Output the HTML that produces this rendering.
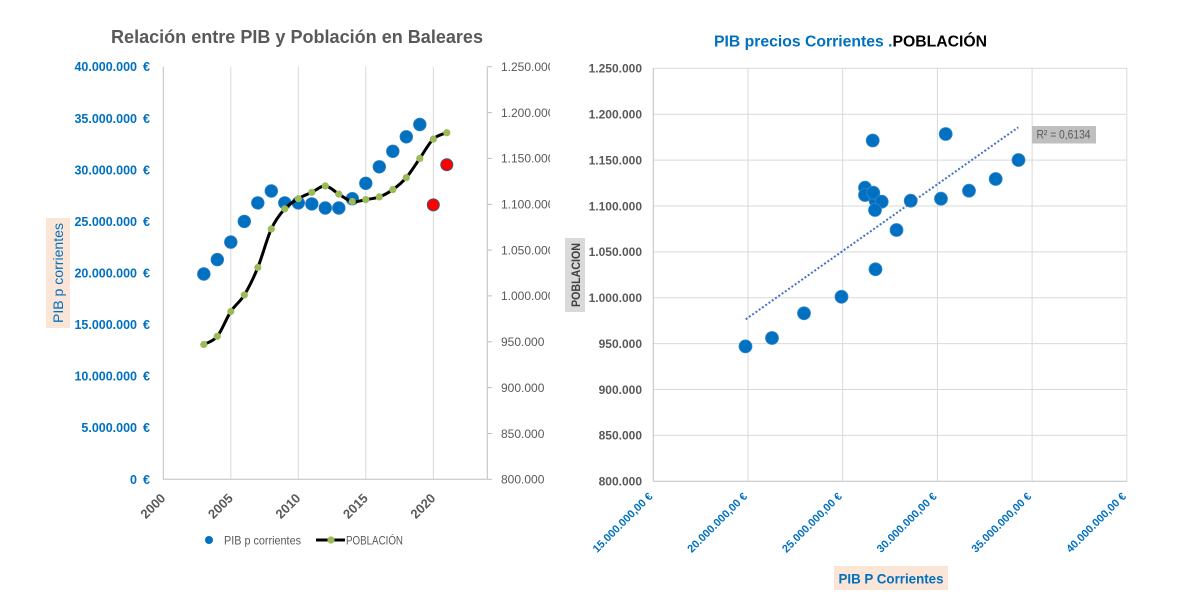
<!DOCTYPE html>
<html>
<head>
<meta charset="utf-8">
<style>
  html,body{margin:0;padding:0;background:#fff;}
  svg{display:block;}
  text{font-family:"Liberation Sans", sans-serif;}
</style>
</head>
<body>
<svg width="1201" height="601" viewBox="0 0 1201 601" xmlns="http://www.w3.org/2000/svg">
  <defs>
    <clipPath id="clipL"><rect x="0" y="0" width="550" height="601"/></clipPath>
  </defs>
  <rect x="0" y="0" width="1201" height="601" fill="#fff"/>

  <!-- ================= LEFT CHART ================= -->
  <text x="111" y="43" font-size="18" font-weight="bold" fill="#595959" textLength="372" lengthAdjust="spacingAndGlyphs">Relación entre PIB y Población  en Baleares</text>

  <!-- vertical gridlines -->
  <g stroke="#D9D9D9" stroke-width="1">
    <line x1="230.8" y1="66.7" x2="230.8" y2="479.3"/>
    <line x1="298.3" y1="66.7" x2="298.3" y2="479.3"/>
    <line x1="365.8" y1="66.7" x2="365.8" y2="479.3"/>
    <line x1="433.3" y1="66.7" x2="433.3" y2="479.3"/>
  </g>
  <!-- axes -->
  <g stroke="#BFBFBF" stroke-width="1">
    <line x1="163.3" y1="66.7" x2="163.3" y2="479.3"/>
    <line x1="163.3" y1="479.3" x2="487.3" y2="479.3"/>
    <line x1="487.3" y1="66.7" x2="487.3" y2="479.3"/>
    <line x1="487.3" y1="479.3" x2="492" y2="479.3"/>
    <line x1="487.3" y1="433.5" x2="492" y2="433.5"/>
    <line x1="487.3" y1="387.6" x2="492" y2="387.6"/>
    <line x1="487.3" y1="341.8" x2="492" y2="341.8"/>
    <line x1="487.3" y1="295.9" x2="492" y2="295.9"/>
    <line x1="487.3" y1="250.1" x2="492" y2="250.1"/>
    <line x1="487.3" y1="204.3" x2="492" y2="204.3"/>
    <line x1="487.3" y1="158.4" x2="492" y2="158.4"/>
    <line x1="487.3" y1="112.6" x2="492" y2="112.6"/>
    <line x1="487.3" y1="66.7" x2="492" y2="66.7"/>
  </g>

  <!-- left y labels -->
  <g font-size="12.5" font-weight="bold" fill="#0070C0" text-anchor="end">
    <text x="137" y="71.2">40.000.000</text><text x="150" y="71.2">€</text>
    <text x="137" y="122.8">35.000.000</text><text x="150" y="122.8">€</text>
    <text x="137" y="174.4">30.000.000</text><text x="150" y="174.4">€</text>
    <text x="137" y="225.9">25.000.000</text><text x="150" y="225.9">€</text>
    <text x="137" y="277.5">20.000.000</text><text x="150" y="277.5">€</text>
    <text x="137" y="329.1">15.000.000</text><text x="150" y="329.1">€</text>
    <text x="137" y="380.7">10.000.000</text><text x="150" y="380.7">€</text>
    <text x="137" y="432.2">5.000.000</text><text x="150" y="432.2">€</text>
    <text x="137" y="483.8">0</text><text x="150" y="483.8">€</text>
  </g>

  <!-- right y labels (clipped) -->
  <g clip-path="url(#clipL)" font-size="12" fill="#595959">
    <text x="501" y="71">1.250.000</text>
    <text x="501" y="116.9">1.200.000</text>
    <text x="501" y="162.7">1.150.000</text>
    <text x="501" y="208.6">1.100.000</text>
    <text x="501" y="254.4">1.050.000</text>
    <text x="501" y="300.2">1.000.000</text>
    <text x="501" y="346.1">950.000</text>
    <text x="501" y="391.9">900.000</text>
    <text x="501" y="437.8">850.000</text>
    <text x="501" y="483.6">800.000</text>
  </g>

  <!-- x labels -->
  <g font-size="13" font-weight="bold" fill="#595959" text-anchor="end">
    <text transform="translate(166.3,499) rotate(-45)">2000</text>
    <text transform="translate(233.8,499) rotate(-45)">2005</text>
    <text transform="translate(301.3,499) rotate(-45)">2010</text>
    <text transform="translate(368.8,499) rotate(-45)">2015</text>
    <text transform="translate(436.3,499) rotate(-45)">2020</text>
  </g>

  <!-- left axis title -->
  <rect x="46" y="218" width="24" height="110" fill="#FBE5D6"/>
  <text transform="translate(63,273) rotate(-90)" font-size="14" fill="#0070C0" text-anchor="middle" textLength="100" lengthAdjust="spacingAndGlyphs">PIB p corrientes</text>

  <!-- PIB blue dots -->
  <g fill="#0070C0" stroke="#2E7CC4" stroke-width="0.8">
    <circle cx="203.8" cy="274.0" r="6.3"/>
    <circle cx="217.3" cy="259.6" r="6.3"/>
    <circle cx="230.8" cy="242.1" r="6.3"/>
    <circle cx="244.3" cy="221.4" r="6.3"/>
    <circle cx="257.8" cy="202.9" r="6.3"/>
    <circle cx="271.3" cy="191.0" r="6.3"/>
    <circle cx="284.8" cy="202.9" r="6.3"/>
    <circle cx="298.3" cy="202.9" r="6.3"/>
    <circle cx="311.8" cy="203.9" r="6.3"/>
    <circle cx="325.3" cy="208.0" r="6.3"/>
    <circle cx="338.8" cy="208.0" r="6.3"/>
    <circle cx="352.3" cy="198.7" r="6.3"/>
    <circle cx="365.8" cy="183.3" r="6.3"/>
    <circle cx="379.3" cy="166.8" r="6.3"/>
    <circle cx="392.8" cy="151.3" r="6.3"/>
    <circle cx="406.3" cy="136.8" r="6.3"/>
    <circle cx="419.8" cy="124.5" r="6.3"/>
  </g>
  <g fill="#FF0000" stroke="#44546A" stroke-width="1">
    <circle cx="433.3" cy="204.9" r="6"/>
    <circle cx="446.8" cy="164.7" r="6"/>
  </g>

  <!-- population smooth line -->
  <path fill="none" stroke="#000" stroke-width="3" stroke-linejoin="round" stroke-linecap="round"
    d="M203.8,344.5 C206.05,343.13 212.8,341.8 217.3,336.3
       C221.8,330.8 226.3,318.38 230.8,311.5
       C235.3,304.62 239.8,302.33 244.3,295.0
       C248.8,287.67 253.3,278.5 257.8,267.5
       C262.3,256.5 266.8,238.78 271.3,229.0
       C275.8,219.22 280.3,213.85 284.8,208.8
       C289.3,203.75 293.8,201.45 298.3,198.7
       C302.8,195.95 307.3,194.43 311.8,192.3
       C316.3,190.17 320.8,185.6 325.3,185.9
       C329.8,186.2 334.3,191.5 338.8,194.1
       C343.3,196.7 347.8,200.58 352.3,201.5
       C356.8,202.42 361.3,200.37 365.8,199.6
       C370.3,198.83 374.8,198.57 379.3,196.9
       C383.8,195.23 388.3,192.82 392.8,189.6
       C397.3,186.38 401.8,182.8 406.3,177.6
       C410.8,172.4 415.3,164.82 419.8,158.4
       C424.3,151.98 428.8,143.38 433.3,139.1
       C437.8,134.82 444.55,133.77 446.8,132.7"/>
  <g fill="#9BBB59">
    <circle cx="203.8" cy="344.5" r="3.6"/>
    <circle cx="217.3" cy="336.3" r="3.6"/>
    <circle cx="230.8" cy="311.5" r="3.6"/>
    <circle cx="244.3" cy="295.0" r="3.6"/>
    <circle cx="257.8" cy="267.5" r="3.6"/>
    <circle cx="271.3" cy="229.0" r="3.6"/>
    <circle cx="284.8" cy="208.8" r="3.6"/>
    <circle cx="298.3" cy="198.7" r="3.6"/>
    <circle cx="311.8" cy="192.3" r="3.6"/>
    <circle cx="325.3" cy="185.9" r="3.6"/>
    <circle cx="338.8" cy="194.1" r="3.6"/>
    <circle cx="352.3" cy="201.5" r="3.6"/>
    <circle cx="365.8" cy="199.6" r="3.6"/>
    <circle cx="379.3" cy="196.9" r="3.6"/>
    <circle cx="392.8" cy="189.6" r="3.6"/>
    <circle cx="406.3" cy="177.6" r="3.6"/>
    <circle cx="419.8" cy="158.4" r="3.6"/>
    <circle cx="433.3" cy="139.1" r="3.6"/>
    <circle cx="446.8" cy="132.7" r="3.6"/>
  </g>

  <!-- legend -->
  <circle cx="209" cy="540" r="4" fill="#0070C0"/>
  <text x="224" y="544.3" font-size="12" fill="#595959" textLength="77" lengthAdjust="spacingAndGlyphs">PIB p corrientes</text>
  <line x1="316" y1="540" x2="345" y2="540" stroke="#000" stroke-width="3"/>
  <circle cx="331" cy="540" r="3.6" fill="#9BBB59"/>
  <text x="346" y="544.3" font-size="12" fill="#595959" textLength="57" lengthAdjust="spacingAndGlyphs">POBLACIÓN</text>

  <!-- ================= RIGHT CHART ================= -->
  <text x="714" y="46.5" font-size="16" font-weight="bold" textLength="273" lengthAdjust="spacingAndGlyphs"><tspan fill="#0070C0">PIB precios Corrientes .</tspan><tspan fill="#000">POBLACIÓN</tspan></text>

  <!-- gridlines -->
  <g stroke="#D9D9D9" stroke-width="1">
    <line x1="653.3" y1="435.4" x2="1126.8" y2="435.4"/>
    <line x1="653.3" y1="389.5" x2="1126.8" y2="389.5"/>
    <line x1="653.3" y1="343.6" x2="1126.8" y2="343.6"/>
    <line x1="653.3" y1="297.7" x2="1126.8" y2="297.7"/>
    <line x1="653.3" y1="251.9" x2="1126.8" y2="251.9"/>
    <line x1="653.3" y1="206.0" x2="1126.8" y2="206.0"/>
    <line x1="653.3" y1="160.1" x2="1126.8" y2="160.1"/>
    <line x1="653.3" y1="114.2" x2="1126.8" y2="114.2"/>
    <line x1="653.3" y1="68.3" x2="1126.8" y2="68.3"/>
    <line x1="748.0" y1="68.3" x2="748.0" y2="481.3"/>
    <line x1="842.7" y1="68.3" x2="842.7" y2="481.3"/>
    <line x1="937.4" y1="68.3" x2="937.4" y2="481.3"/>
    <line x1="1032.1" y1="68.3" x2="1032.1" y2="481.3"/>
    <line x1="1126.8" y1="68.3" x2="1126.8" y2="481.3"/>
  </g>
  <g stroke="#BFBFBF" stroke-width="1">
    <line x1="653.3" y1="68.3" x2="653.3" y2="481.3"/>
    <line x1="653.3" y1="481.3" x2="1126.8" y2="481.3"/>
  </g>

  <!-- y labels -->
  <g font-size="12" font-weight="bold" fill="#595959" text-anchor="end">
    <text x="642" y="72.6">1.250.000</text>
    <text x="642" y="118.5">1.200.000</text>
    <text x="642" y="164.4">1.150.000</text>
    <text x="642" y="210.3">1.100.000</text>
    <text x="642" y="256.2">1.050.000</text>
    <text x="642" y="302.0">1.000.000</text>
    <text x="642" y="347.9">950.000</text>
    <text x="642" y="393.8">900.000</text>
    <text x="642" y="439.7">850.000</text>
    <text x="642" y="485.6">800.000</text>
  </g>

  <!-- x labels -->
  <g font-size="11" font-weight="bold" fill="#0070C0" text-anchor="end">
    <text transform="translate(653.3,497) rotate(-45)">15.000.000,00 €</text>
    <text transform="translate(748.0,497) rotate(-45)">20.000.000,00 €</text>
    <text transform="translate(842.7,497) rotate(-45)">25.000.000,00 €</text>
    <text transform="translate(937.4,497) rotate(-45)">30.000.000,00 €</text>
    <text transform="translate(1032.1,497) rotate(-45)">35.000.000,00 €</text>
    <text transform="translate(1126.8,497) rotate(-45)">40.000.000,00 €</text>
  </g>

  <!-- axis titles -->
  <rect x="565" y="238" width="20" height="74" fill="#D9D9D9"/>
  <text transform="translate(580,275) rotate(-90)" font-size="11.5" font-weight="bold" fill="#404040" text-anchor="middle" textLength="64" lengthAdjust="spacingAndGlyphs">POBLACION</text>

  <rect x="834" y="566" width="114" height="24" fill="#FBE5D6"/>
  <text x="891" y="583.5" font-size="14" font-weight="bold" fill="#0070C0" text-anchor="middle" textLength="105" lengthAdjust="spacingAndGlyphs">PIB P Corrientes</text>

  <!-- trendline -->
  <line x1="745.7" y1="319.3" x2="1018.3" y2="127.3" stroke="#4472C4" stroke-width="2" stroke-dasharray="2 2"/>

  <!-- scatter points -->
  <g fill="#0070C0" stroke="#3A86CC" stroke-width="0.8">
    <circle cx="745.5" cy="346.4" r="6.5"/>
    <circle cx="772" cy="338" r="6.5"/>
    <circle cx="804" cy="313.3" r="6.5"/>
    <circle cx="841.5" cy="296.8" r="6.5"/>
    <circle cx="875.5" cy="269.3" r="6.5"/>
    <circle cx="896.5" cy="230" r="6.5"/>
    <circle cx="875.5" cy="200.5" r="6.5"/>
    <circle cx="865" cy="187.7" r="6.5"/>
    <circle cx="865" cy="195" r="6.5"/>
    <circle cx="873.3" cy="192.7" r="6.5"/>
    <circle cx="881.7" cy="201.7" r="6.5"/>
    <circle cx="875" cy="210" r="6.5"/>
    <circle cx="910.7" cy="200.7" r="6.5"/>
    <circle cx="941" cy="198.7" r="6.5"/>
    <circle cx="969" cy="190.7" r="6.5"/>
    <circle cx="995.7" cy="179" r="6.5"/>
    <circle cx="1018.5" cy="160" r="6.5"/>
    <circle cx="872.7" cy="140.5" r="6.5"/>
    <circle cx="945.7" cy="134" r="6.5"/>
  </g>

  <!-- R² label -->
  <rect x="1032" y="126" width="64" height="17.5" fill="#BFBFBF"/>
  <text x="1036.5" y="138.6" font-size="12" fill="#595959" textLength="54" lengthAdjust="spacingAndGlyphs">R² = 0,6134</text>
</svg>
</body>
</html>
